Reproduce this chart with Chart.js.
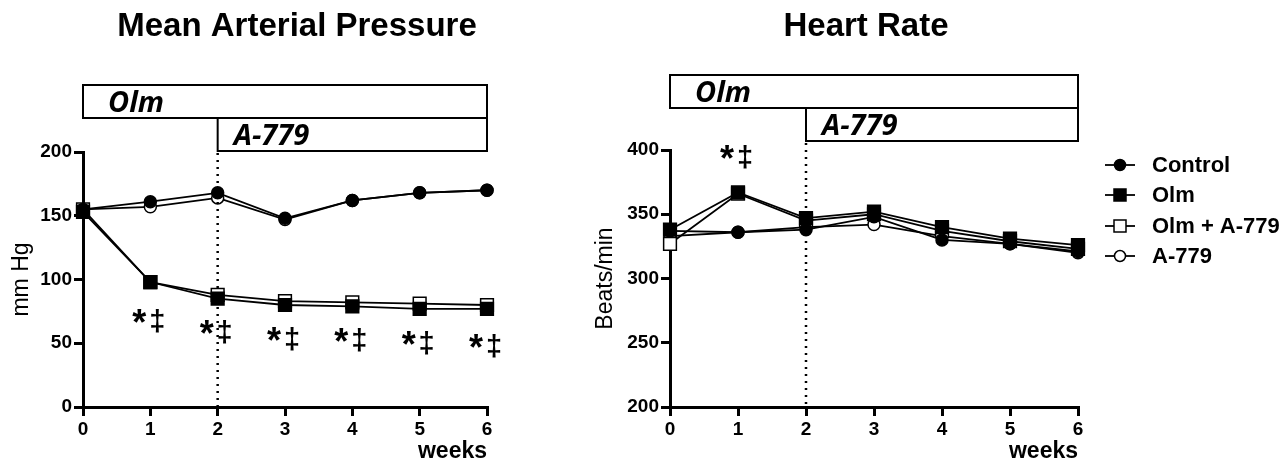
<!DOCTYPE html>
<html>
<head>
<meta charset="utf-8">
<script src="https://cdn.jsdelivr.net/npm/chart.js@4.4.1/dist/chart.umd.min.js"></script>
<style>
  body { margin: 0; background: #fff; }
  .wrap { position: absolute; top: 0; height: 464px; }
</style>
</head>
<body>
<div class="wrap" style="left:0;width:520px"><canvas id="mapChart"></canvas></div>
<div class="wrap" style="left:560px;width:726px"><canvas id="hrChart"></canvas></div>
<script>
// weeks on the x axis
const weeks = [0, 1, 2, 3, 4, 5, 6];
const seriesNames = ['Control', 'Olm', 'Olm + A-779', 'A-779'];

// Mean arterial pressure (mm Hg)
const mapControl = [155, 161, 168, 148, 162, 168, 170];
const mapOlm     = [153, 98, 85, 80, 79, 77, 77];
const mapOlmA779 = [155, 98, 88, 83, 82, 81, 80];
const mapA779    = [155, 157, 164, 147, 162, 168, 170];

// Heart rate (beats/min)
const hrControl = [337, 336, 338, 348, 330, 327, 321];
const hrOlm     = [338, 367, 347, 352, 340, 331, 326];
const hrOlmA779 = [327, 366, 345, 350, 337, 329, 323];
const hrA779    = [333, 336, 340, 342, 333, 327, 320];

// significance marks (week, value where the asterisk sits)
const mapSigWeeks = [1, 2, 3, 4, 5, 6];
const mapSigAt    = [73, 64, 59, 58, 56, 53];
const hrSigWeeks  = [1];
const hrSigAt     = [400];

const FONT = '"Liberation Sans", Arial, sans-serif';
const BLACK = '#000';

function ds(label, data, style, filled) {
    return {
        label: label,
        data: weeks.map((w, i) => ({ x: w, y: data[i] })),
        borderColor: BLACK,
        borderWidth: 1.8,
        pointStyle: style,
        pointRadius: style === 'rect' ? 9 : 6,
        pointBorderWidth: 1.5,
        pointBorderColor: BLACK,
        pointBackgroundColor: filled ? BLACK : '#fff',
        tension: 0,
        clip: false
    };
}

// boxes showing treatment periods, dotted line at week 2, titles, significance marks
function overlay(opts) {
    return {
        id: 'overlay_' + opts.id,
        afterDraw(chart) {
            const ctx = chart.ctx;
            const x = chart.scales.x, y = chart.scales.y;
            const x0 = x.getPixelForValue(0), x2 = x.getPixelForValue(2), x6 = x.getPixelForValue(6);
            ctx.save();
            // title
            ctx.fillStyle = BLACK;
            ctx.font = 'bold 33px ' + FONT;
            ctx.textAlign = 'center';
            ctx.textBaseline = 'alphabetic';
            ctx.fillText(opts.title, opts.titleX, 36);

            // treatment boxes
            const t = opts.boxTop, h = opts.boxH;
            ctx.strokeStyle = BLACK;
            ctx.lineWidth = 2;
            ctx.strokeRect(x0, t, x6 - x0, h);
            ctx.strokeRect(x2, t + h, x6 - x2, h);
            ctx.font = 'italic bold 29px "Open Sans", ' + FONT;
            ctx.textAlign = 'left';
            ctx.fillText('Olm', x0 + 25, t + h - 6);
            ctx.fillText('A-779', x2 + 16, t + 2 * h - 6);

            // dotted line at week 2
            ctx.setLineDash([2, 5]);
            ctx.lineWidth = 2.5;
            ctx.beginPath();
            ctx.moveTo(x2, t + 2 * h + 2);
            ctx.lineTo(x2, y.bottom);
            ctx.stroke();
            ctx.setLineDash([]);

            // significance marks
            opts.sigWeeks.forEach((w, i) => {
                const px = x.getPixelForValue(w), py = y.getPixelForValue(opts.sigAt[i]);
                ctx.textAlign = 'center';
                ctx.font = 'bold 36px ' + FONT;
                ctx.fillText('*', px - 11, py + 21);
                ctx.font = 'bold 29px ' + FONT;
                ctx.fillText('\u2021', px + 7, py + 17);
            });

            if (opts.legend) {
                const lx = 545, ys = [165, 195, 226, 256];
                chart.data.datasets.forEach((d, i) => {
                    const cy = ys[i];
                    ctx.lineWidth = 1.8;
                    ctx.strokeStyle = BLACK;
                    ctx.beginPath();
                    ctx.moveTo(lx, cy); ctx.lineTo(lx + 30, cy);
                    ctx.stroke();
                    ctx.lineWidth = 1.5;
                    ctx.fillStyle = d.pointBackgroundColor;
                    ctx.beginPath();
                    if (d.pointStyle === 'rect') ctx.rect(lx + 9, cy - 6, 12, 12);
                    else ctx.arc(lx + 15, cy, 5.5, 0, Math.PI * 2);
                    ctx.fill();
                    ctx.stroke();
                    ctx.fillStyle = BLACK;
                    ctx.font = 'bold 22px ' + FONT;
                    ctx.textAlign = 'left';
                    ctx.textBaseline = 'middle';
                    ctx.fillText(d.label, lx + 47, cy + 1);
                    ctx.textBaseline = 'alphabetic';
                });
            }
            ctx.restore();
        }
    };
}

function axisCommon() {
    return {
        border: { display: true, color: BLACK, width: 3 },
        grid: { drawOnChartArea: false, drawTicks: true, tickLength: 9, color: BLACK, lineWidth: 3 }
    };
}

function makeChart(id, series, yMin, yMax, yTitle, yWidth, yTitlePad, padding, extra) {
    const xAxis = Object.assign(axisCommon(), {
        type: 'linear', min: 0, max: 6,
        ticks: { stepSize: 1, color: BLACK, padding: 2, font: { family: FONT, size: 19, weight: 'bold' } },
        title: { display: true, text: 'weeks', align: 'end', color: BLACK, padding: { top: 0, bottom: -1 },
                 font: { family: FONT, size: 23, weight: 'bold' } },
        afterFit: s => { s.height = 57; }
    });
    const yAxis = Object.assign(axisCommon(), {
        min: yMin, max: yMax,
        ticks: { stepSize: 50, color: BLACK, padding: 2, font: { family: FONT, size: 19, weight: 'bold' } },
        title: { display: true, text: yTitle, color: BLACK, padding: { top: yTitlePad, bottom: 0 },
                 font: { family: FONT, size: 23 } },
        afterFit: s => { s.width = yWidth; }
    });
    return new Chart(document.getElementById(id), {
        type: 'line',
        data: {
            datasets: [
                ds(seriesNames[0], series[0], 'circle', true),
                ds(seriesNames[1], series[1], 'rect', true),
                ds(seriesNames[2], series[2], 'rect', false),
                ds(seriesNames[3], series[3], 'circle', false)
            ]
        },
        options: {
            responsive: true,
            maintainAspectRatio: false,
            animation: false,
            layout: { padding: padding },
            plugins: { legend: { display: false }, tooltip: { enabled: false } },
            scales: { x: xAxis, y: yAxis }
        },
        plugins: [overlay(extra)]
    });
}

makeChart('mapChart', [mapControl, mapOlm, mapOlmA779, mapA779], 0, 200, 'mm Hg', 83, 8,
    { left: 0, top: 152, right: 33, bottom: 0 },
    { id: 'map', title: 'Mean Arterial Pressure', titleX: 297, boxTop: 85, boxH: 33,
      sigWeeks: mapSigWeeks, sigAt: mapSigAt, legend: false });

makeChart('hrChart', [hrControl, hrOlm, hrOlmA779, hrA779], 200, 400, 'Beats/min', 110, 32,
    { left: 0, top: 150, right: 208, bottom: 0 },
    { id: 'hr', title: 'Heart Rate', titleX: 306, boxTop: 75, boxH: 33,
      sigWeeks: hrSigWeeks, sigAt: hrSigAt, legend: true });
</script>
</body>
</html>
